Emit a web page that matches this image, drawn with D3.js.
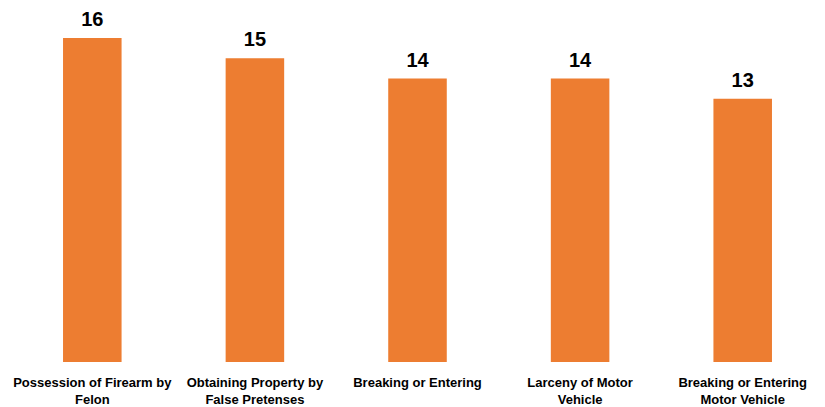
<!DOCTYPE html>
<html>
<head>
<meta charset="utf-8">
<script src="https://cdn.jsdelivr.net/npm/d3@7"></script>
<style>
  body { margin: 0; background: #fff; }
  text { font-family: "Liberation Sans", Arial, sans-serif; font-weight: bold; fill: #000; }
</style>
</head>
<body>
<div id="chart"></div>
<script>
var categories = [
  "Possession of Firearm by Felon",
  "Obtaining Property by False Pretenses",
  "Breaking or Entering",
  "Larceny of Motor Vehicle",
  "Breaking or Entering Motor Vehicle"
];
var tickLines = [
  ["Possession of Firearm by", "Felon"],
  ["Obtaining Property by", "False Pretenses"],
  ["Breaking or Entering"],
  ["Larceny of Motor", "Vehicle"],
  ["Breaking or Entering", "Motor Vehicle"]
];
var values = [16, 15, 14, 14, 13];

var width = 825,
    height = 407;

var svg = d3.select("#chart").append("svg")
    .attr("width", width)
    .attr("height", height);

var xScale = d3.scaleBand()
    .domain(categories)
    .range([11, 824])
    .paddingInner(0.64)
    .paddingOuter(0.32);

var yScale = d3.scaleLinear()
    .domain([0, 16])
    .range([362, 38]);

svg.selectAll("rect.bar")
    .data(values)
  .enter().append("rect")
    .attr("class", "bar")
    .attr("x", (d, i) => xScale(categories[i]))
    .attr("y", d => yScale(d))
    .attr("width", xScale.bandwidth())
    .attr("height", d => yScale(0) - yScale(d))
    .attr("fill", "#ED7D31");

svg.selectAll("text.value")
    .data(values)
  .enter().append("text")
    .attr("class", "value")
    .attr("x", (d, i) => xScale(categories[i]) + xScale.bandwidth() / 2)
    .attr("y", d => yScale(d) - 12)
    .attr("text-anchor", "middle")
    .style("font-size", "20px")
    .text(d => d);

var ticks = svg.selectAll("text.tick")
    .data(tickLines)
  .enter().append("text")
    .attr("class", "tick")
    .attr("text-anchor", "middle")
    .style("font-size", "13px")
    .attr("transform", (d, i) => "translate(" + (xScale(categories[i]) + xScale.bandwidth() / 2) + ",387)");

ticks.selectAll("tspan")
    .data(d => d)
  .enter().append("tspan")
    .attr("x", 0)
    .attr("y", (d, i) => i * 17)
    .text(d => d);
</script>
</body>
</html>
